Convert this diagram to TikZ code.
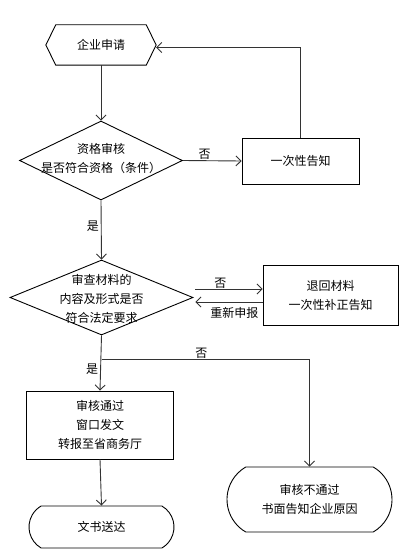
\documentclass[tikz,border=0pt]{standalone}
\usepackage{fontspec}
\newfontfamily\cjk{Noto Sans CJK SC}
\usetikzlibrary{shapes.geometric,shapes.misc,arrows.meta,calc}
\begin{document}
\begin{tikzpicture}[x=1pt,y=-1pt,
  txt/.style={font=\cjk\fontsize{12}{19}\selectfont, align=center, inner sep=0pt},
  box/.style={draw, line width=0.9pt, inner sep=0pt, font=\cjk\fontsize{12}{19}\selectfont, align=center},
  dia/.style={draw, diamond, line width=0.9pt, inner sep=0pt},
  term/.style={draw, rounded rectangle, rounded rectangle arc length=120, line width=0.9pt, inner sep=0pt, font=\cjk\fontsize{12}{19}\selectfont, align=center},
  conn/.style={line width=0.9pt, draw=black!80},
  arr/.style={conn, -{Straight Barb[length=5pt,width=10pt]}},
  lbl/.style={font=\cjk\fontsize{12}{14}\selectfont, inner sep=1pt}]
\useasboundingbox (0,0) rectangle (411,559);

% start hexagon
\node[minimum width=110pt, minimum height=40pt, inner sep=0pt, font=\cjk\fontsize{12}{19}\selectfont] (apply) at (101,45) {企业申请};
\draw[line width=0.9pt] (apply.west) -- ([xshift=10pt]apply.north west) -- ([xshift=-10pt]apply.north east) -- (apply.east) -- ([xshift=-10pt]apply.south east) -- ([xshift=10pt]apply.south west) -- cycle;

% decision 1
\node[dia, minimum width=163pt, minimum height=79pt] (d1) at (101,160.5) {};
\node[txt] at ([yshift=2pt]d1.center) {资格审核\\是否符合资格（条件）};

\node[box, minimum width=117pt, minimum height=46pt] (notice) at (300.5,161) {一次性告知};

% decision 2
\node[dia, minimum width=183pt, minimum height=75pt] (d2) at (101.5,297.5) {};
\node[txt] at ([yshift=-1pt]d2.center) {审查材料的\\内容及形式是否\\符合法定要求};

\node[box, minimum width=135pt, minimum height=60pt] (ret) at (330.5,295) {退回材料\\一次性补正告知};

\node[box, minimum width=147pt, minimum height=68pt] (pass) at (100,425) {审核通过\\窗口发文\\转报至省商务厅};

\node[term, minimum width=145pt, minimum height=42pt] (doc) at (101.5,527) {文书送达};

\node[term, minimum width=165pt, minimum height=65pt] (fail) at (309.5,499.5) {审核不通过\\书面告知企业原因};

% connectors
\draw[arr] (apply.south) -- (d1.north);
\draw[arr] (d1.east) -- node[lbl, above, pos=0.37] {否} (notice.west);
\draw[arr] (notice.north) |- ([yshift=-2.5pt]apply.east);
\draw[arr] (d1.south) -- node[lbl, left, pos=0.43, inner sep=2pt] {是} (d2.north);

\coordinate (d2e) at ([xshift=2pt]d2.east);
\coordinate (r1) at ([yshift=6pt]ret.west);
\coordinate (r2) at ([yshift=-7pt]ret.west);
\draw[arr] (r1 -| d2e) -- node[lbl, above, pos=0.37, inner sep=0.5pt] {否} (r1);
\draw[arr] (r2) -- node[lbl, below, pos=0.42, inner sep=4.5pt] {重新申报} (r2 -| d2e);

\draw[arr] (d2.south) -- node[lbl, left, pos=0.61, inner sep=2pt] {是} (pass.north);
\coordinate (br) at ([yshift=-24pt]d2.south);
\draw[arr] (br) -| node[lbl, above, pos=0.24, inner sep=0.5pt] {否} (fail.north);

\draw[arr] (pass.south) -- (doc.north);
\end{tikzpicture}
\end{document}
